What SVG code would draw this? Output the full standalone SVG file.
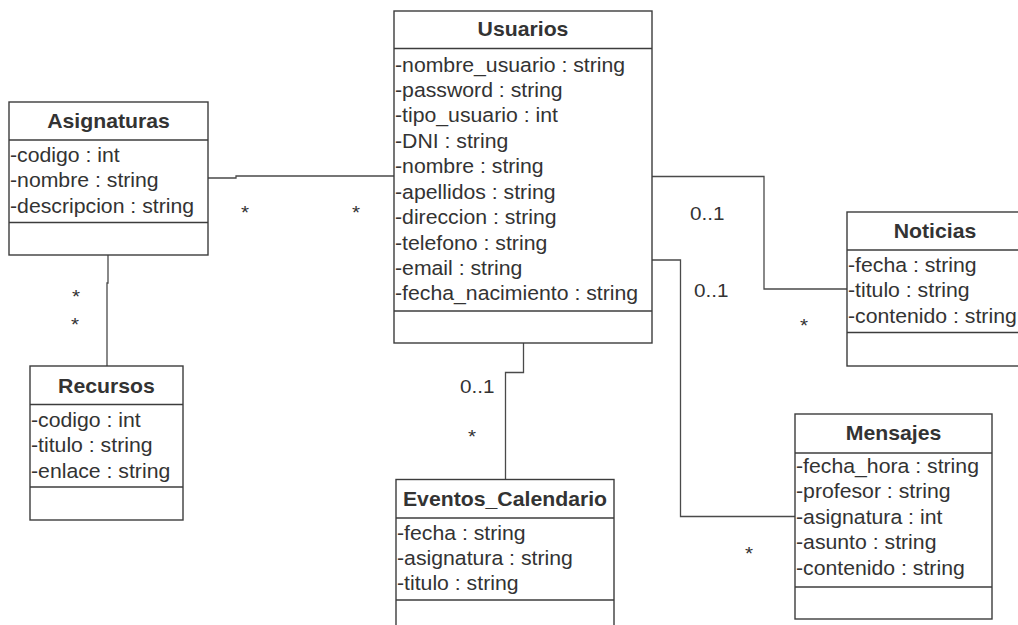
<svg xmlns="http://www.w3.org/2000/svg" width="1018" height="625" viewBox="0 0 1018 625">
  <style>
    .box { fill: #ffffff; stroke: #3c3c3c; stroke-width: 1.4; }
    .sep { stroke: #3c3c3c; stroke-width: 1.4; }
    .title { font-family: "Liberation Sans", Arial, sans-serif; font-size: 19.5px; font-weight: bold; fill: #333333; text-anchor: middle; }
    .attr { font-family: "Liberation Sans", Arial, sans-serif; font-size: 19.5px; fill: #333333; }
    .mult { font-family: "Liberation Sans", Arial, sans-serif; font-size: 19px; fill: #333333; }
    .wire { fill: none; stroke: #4a4a4a; stroke-width: 1.3; }
  </style>
  <rect width="1018" height="625" fill="#ffffff"/>

  <!-- associations -->
  <g id="connectors">
    <polyline class="wire" points="208,178 236,178 236,176 394,176"/>
    <polyline class="wire" points="108,255 108,283 107,283 107,366"/>
    <polyline class="wire" points="652,176.5 764,176.5 764,289 847,289"/>
    <polyline class="wire" points="652,260 680.5,260 680.5,516.5 795,516.5"/>
    <polyline class="wire" points="523.5,343 523.5,372.5 505.5,372.5 505.5,479.5"/>

    <text class="mult" transform="translate(245 219) scale(1.09 1)" text-anchor="middle">*</text>
    <text class="mult" transform="translate(356 219) scale(1.09 1)" text-anchor="middle">*</text>
    <text class="mult" transform="translate(76 303) scale(1.09 1)" text-anchor="middle">*</text>
    <text class="mult" transform="translate(75 331) scale(1.09 1)" text-anchor="middle">*</text>
    <text class="mult" transform="translate(690 219.5) scale(1.09 1)">0..1</text>
    <text class="mult" transform="translate(804 332) scale(1.09 1)" text-anchor="middle">*</text>
    <text class="mult" transform="translate(694 296.5) scale(1.09 1)">0..1</text>
    <text class="mult" transform="translate(749 560) scale(1.09 1)" text-anchor="middle">*</text>
    <text class="mult" transform="translate(460 393) scale(1.09 1)">0..1</text>
    <text class="mult" transform="translate(472 443) scale(1.09 1)" text-anchor="middle">*</text>
  </g>

  <!-- Usuarios -->
  <g id="usuarios">
    <rect class="box" x="394" y="11" width="258" height="332"/>
    <line class="sep" x1="394" y1="48.5" x2="652" y2="48.5"/>
    <line class="sep" x1="394" y1="311" x2="652" y2="311"/>
    <text class="title" transform="translate(523 36) scale(1.09 1)">Usuarios</text>
    <text class="attr" transform="translate(395 71.5) scale(1.09 1)">-nombre_usuario : string</text>
    <text class="attr" transform="translate(395 96.9) scale(1.09 1)">-password : string</text>
    <text class="attr" transform="translate(395 122.4) scale(1.09 1)">-tipo_usuario : int</text>
    <text class="attr" transform="translate(395 147.8) scale(1.09 1)">-DNI : string</text>
    <text class="attr" transform="translate(395 173.3) scale(1.09 1)">-nombre : string</text>
    <text class="attr" transform="translate(395 198.7) scale(1.09 1)">-apellidos : string</text>
    <text class="attr" transform="translate(395 224.1) scale(1.09 1)">-direccion : string</text>
    <text class="attr" transform="translate(395 249.6) scale(1.09 1)">-telefono : string</text>
    <text class="attr" transform="translate(395 275) scale(1.09 1)">-email : string</text>
    <text class="attr" transform="translate(395 300.4) scale(1.09 1)">-fecha_nacimiento : string</text>
  </g>

  <!-- Asignaturas -->
  <g id="asignaturas">
    <rect class="box" x="9" y="102" width="199" height="153"/>
    <line class="sep" x1="9" y1="140" x2="208" y2="140"/>
    <line class="sep" x1="9" y1="222.5" x2="208" y2="222.5"/>
    <text class="title" transform="translate(108.5 127.5) scale(1.09 1)">Asignaturas</text>
    <text class="attr" transform="translate(10 162) scale(1.09 1)">-codigo : int</text>
    <text class="attr" transform="translate(10 187.3) scale(1.09 1)">-nombre : string</text>
    <text class="attr" transform="translate(10 212.6) scale(1.09 1)">-descripcion : string</text>
  </g>

  <!-- Recursos -->
  <g id="recursos">
    <rect class="box" x="30" y="366" width="153" height="154"/>
    <line class="sep" x1="30" y1="404.5" x2="183" y2="404.5"/>
    <line class="sep" x1="30" y1="487" x2="183" y2="487"/>
    <text class="title" transform="translate(106.5 392.5) scale(1.09 1)">Recursos</text>
    <text class="attr" transform="translate(31 427) scale(1.09 1)">-codigo : int</text>
    <text class="attr" transform="translate(31 452.3) scale(1.09 1)">-titulo : string</text>
    <text class="attr" transform="translate(31 477.6) scale(1.09 1)">-enlace : string</text>
  </g>

  <!-- Noticias -->
  <g id="noticias">
    <rect class="box" x="847" y="212" width="176" height="154"/>
    <line class="sep" x1="847" y1="250" x2="1023" y2="250"/>
    <line class="sep" x1="847" y1="332.5" x2="1023" y2="332.5"/>
    <text class="title" transform="translate(935 237.5) scale(1.09 1)">Noticias</text>
    <text class="attr" transform="translate(848 272) scale(1.09 1)">-fecha : string</text>
    <text class="attr" transform="translate(848 297.3) scale(1.09 1)">-titulo : string</text>
    <text class="attr" transform="translate(848 322.6) scale(1.09 1)">-contenido : string</text>
  </g>

  <!-- Mensajes -->
  <g id="mensajes">
    <rect class="box" x="795" y="414" width="197" height="205"/>
    <line class="sep" x1="795" y1="453" x2="992" y2="453"/>
    <line class="sep" x1="795" y1="587" x2="992" y2="587"/>
    <text class="title" transform="translate(893.5 440.3) scale(1.09 1)">Mensajes</text>
    <text class="attr" transform="translate(796 473) scale(1.09 1)">-fecha_hora : string</text>
    <text class="attr" transform="translate(796 498.4) scale(1.09 1)">-profesor : string</text>
    <text class="attr" transform="translate(796 523.8) scale(1.09 1)">-asignatura : int</text>
    <text class="attr" transform="translate(796 549.2) scale(1.09 1)">-asunto : string</text>
    <text class="attr" transform="translate(796 574.6) scale(1.09 1)">-contenido : string</text>
  </g>

  <!-- Eventos_Calendario -->
  <g id="eventos_calendario">
    <rect class="box" x="396" y="479.5" width="218" height="160"/>
    <line class="sep" x1="396" y1="518" x2="614" y2="518"/>
    <line class="sep" x1="396" y1="600" x2="614" y2="600"/>
    <text class="title" transform="translate(505 506) scale(1.09 1)">Eventos_Calendario</text>
    <text class="attr" transform="translate(397 539.5) scale(1.09 1)">-fecha : string</text>
    <text class="attr" transform="translate(397 564.8) scale(1.09 1)">-asignatura : string</text>
    <text class="attr" transform="translate(397 590.1) scale(1.09 1)">-titulo : string</text>
  </g>
</svg>
